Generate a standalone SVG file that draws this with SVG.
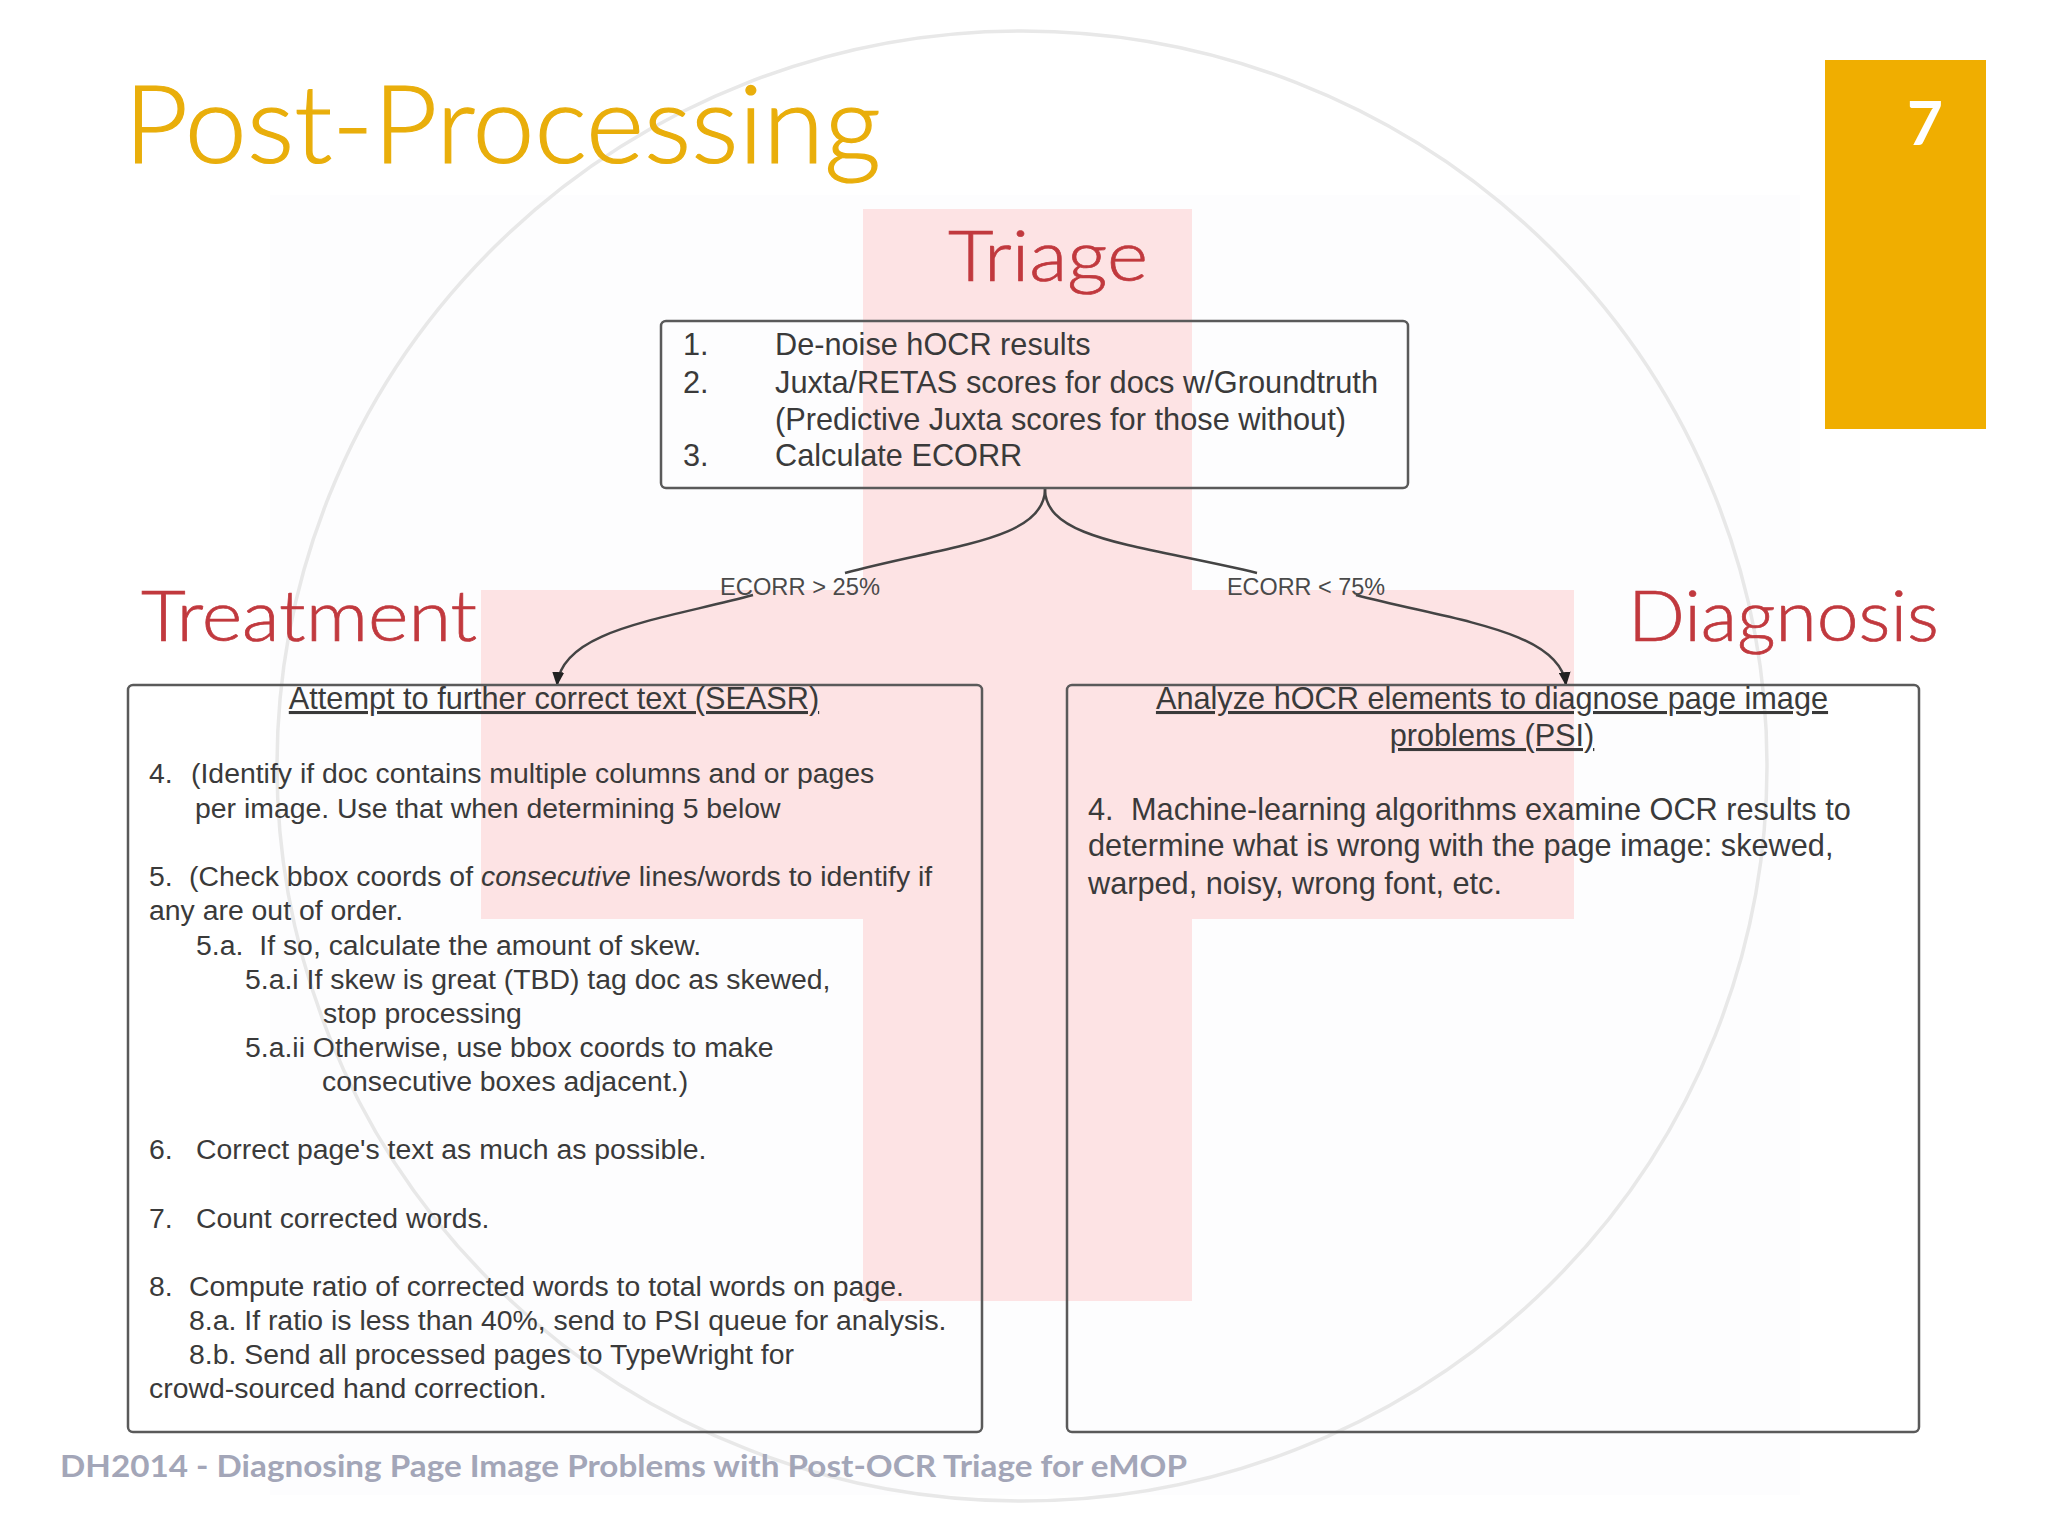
<svg xmlns="http://www.w3.org/2000/svg" width="2048" height="1536" viewBox="0 0 2048 1536">
<style>
.b{font-family:"Liberation Sans",Arial,sans-serif;fill:#3a3a3a}
.t{font-size:30.7px}
.s{font-size:28.4px}
.l{font-size:24px;fill:#4a4a4a}
.h{font-family:Lato,"Open Sans",sans-serif;font-weight:300;fill:#c1393e;stroke:#c1393e;stroke-width:.7;font-size:70px}
.box{fill:none;stroke:#5a5a5a;stroke-width:2.5}
.c{fill:none;stroke:#444;stroke-width:2.5}
</style>
<defs><marker id="a" markerWidth="14" markerHeight="12" refX="13" refY="6" orient="auto" markerUnits="userSpaceOnUse" viewBox="0 0 14 12"><path d="M0 0L14 6L0 12Z" fill="#222"/></marker></defs>
<rect width="2048" height="1536" fill="#fff"/>
<rect x="270" y="195" width="1530" height="1300" fill="#fdfdfe"/>
<g id="cross" fill="#fde3e4"><rect x="863" y="209" width="329" height="1092"/><rect x="481" y="590" width="1093" height="329"/></g>
<ellipse id="ring" cx="1022" cy="766" rx="745" ry="735" fill="none" stroke="#e8e8e8" stroke-width="3.5"/>
<text x="124" y="163" font-family="Lato,'Open Sans',sans-serif" font-weight="300" font-size="108" fill="#e9ae0b" stroke="#e9ae0b" stroke-width="1.2" textLength="757" lengthAdjust="spacingAndGlyphs">Post-Processing</text>
<g id="pagenum"><rect x="1825" y="60" width="161" height="369" fill="#f0ae00"/><text x="1925" y="145" text-anchor="middle" font-family="Lato,'Open Sans',sans-serif" font-weight="700" font-size="62" fill="#fff">7</text></g>
<text class="h" x="948" y="281" textLength="200" lengthAdjust="spacingAndGlyphs">Triage</text>
<text class="h" x="141" y="641" textLength="336" lengthAdjust="spacingAndGlyphs">Treatment</text>
<text class="h" x="1628" y="641" textLength="311" lengthAdjust="spacingAndGlyphs">Diagnosis</text>
<g id="connectors">
<path class="c" d="M1045 489C1045 540 950 545 845 573"/>
<path class="c" d="M753 595C660 620 562 630 557 685" marker-end="url(#a)"/>
<path class="c" d="M1045 489C1045 540 1140 545 1257 573"/>
<path class="c" d="M1356 595C1450 620 1560 630 1566 685" marker-end="url(#a)"/>
<text class="b l" x="720" y="595" textLength="160" lengthAdjust="spacingAndGlyphs">ECORR &gt; 25%</text>
<text class="b l" x="1227" y="595" textLength="158" lengthAdjust="spacingAndGlyphs">ECORR &lt; 75%</text>
</g>
<g id="triage"><rect class="box" x="661" y="321" width="747" height="167" rx="5"/>
<g class="b t">
<text x="683" y="355">1.</text><text x="775" y="355">De-noise hOCR results</text>
<text x="683" y="393">2.</text><text x="775" y="393" textLength="603" lengthAdjust="spacingAndGlyphs">Juxta/RETAS scores for docs w/Groundtruth</text>
<text x="775" y="430" textLength="571" lengthAdjust="spacingAndGlyphs">(Predictive Juxta scores for those without)</text>
<text x="683" y="466">3.</text><text x="775" y="466">Calculate ECORR</text>
</g></g>
<g id="treatment"><rect class="box" x="128" y="685" width="854" height="747" rx="5"/>
<g class="b s">
<text class="t" x="554" y="709" text-anchor="middle" text-decoration="underline">Attempt to further correct text (SEASR)</text>
<text x="149" y="783">4.</text><text x="191" y="783">(Identify if doc contains multiple columns and or pages</text>
<text x="195" y="818">per image. Use that when determining 5 below</text>
<text x="149" y="886">5.</text><text x="189" y="886">(Check bbox coords of <tspan font-style="italic">consecutive</tspan> lines/words to identify if</text>
<text x="149" y="920">any are out of order.</text>
<text x="196" y="955">5.a.  <tspan dx="8">If so, calculate the amount of skew.</tspan></text>
<text x="245" y="989">5.a.i If skew is great (TBD) tag doc as skewed,</text>
<text x="323" y="1023">stop processing</text>
<text x="245" y="1057">5.a.ii Otherwise, use bbox coords to make</text>
<text x="322" y="1091">consecutive boxes adjacent.)</text>
<text x="149" y="1159">6.</text><text x="196" y="1159">Correct page's text as much as possible.</text>
<text x="149" y="1228">7.</text><text x="196" y="1228">Count corrected words.</text>
<text x="149" y="1296">8.</text><text x="189" y="1296">Compute ratio of corrected words to total words on page.</text>
<text x="189" y="1330">8.a. If ratio is less than 40%, send to PSI queue for analysis.</text>
<text x="189" y="1364">8.b. Send all processed pages to TypeWright for</text>
<text x="149" y="1398">crowd-sourced hand correction.</text>
</g></g>
<g id="diagnosis"><rect class="box" x="1067" y="685" width="852" height="747" rx="5"/>
<g class="b t">
<text x="1492" y="709" text-anchor="middle" text-decoration="underline">Analyze hOCR elements to diagnose page image</text>
<text x="1492" y="746" text-anchor="middle" text-decoration="underline">problems (PSI)</text>
<text x="1088" y="820">4.</text><text x="1131" y="820">Machine-learning algorithms examine OCR results to</text>
<text x="1088" y="856">determine what is wrong with the page image: skewed,</text>
<text x="1088" y="894">warped, noisy, wrong font, etc.</text>
</g></g>
<text x="60" y="1477" font-family="Lato,'Open Sans',sans-serif" font-weight="700" font-size="31" fill="#a3a6b8" textLength="1127" lengthAdjust="spacingAndGlyphs">DH2014 - Diagnosing Page Image Problems with Post-OCR Triage for eMOP</text>
</svg>
